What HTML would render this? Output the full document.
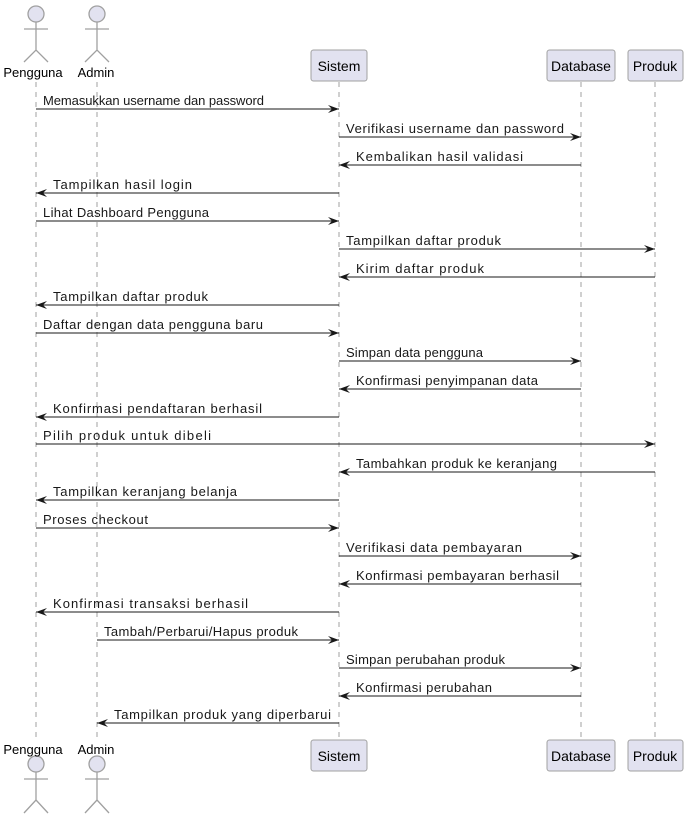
<!DOCTYPE html>
<html><head><meta charset="utf-8"><style>
html,body{margin:0;padding:0;background:#fff;}
svg{display:block;font-family:"Liberation Sans",sans-serif;}
</style></head><body>
<svg width="689" height="821" viewBox="0 0 689 821" xmlns="http://www.w3.org/2000/svg">
<g stroke="#a0a0a0" stroke-width="1" stroke-dasharray="5,5">
<line x1="36" y1="82" x2="36" y2="740"/>
<line x1="97" y1="82" x2="97" y2="740"/>
<line x1="339" y1="82" x2="339" y2="740"/>
<line x1="581" y1="82" x2="581" y2="740"/>
<line x1="655" y1="82" x2="655" y2="740"/>
</g>
<g fill="#e2e2f0" stroke="#a0a0a0" stroke-width="1.3">
<circle cx="36" cy="14" r="8"/><circle cx="97" cy="14" r="8"/>
<circle cx="36" cy="764" r="8"/><circle cx="97" cy="764" r="8"/>
</g>
<g stroke="#a0a0a0" stroke-width="1.3" fill="none">
<path d="M36 22V50M24 29H48M24 62L36 50L48 62"/>
<path d="M97 22V50M85 29H109M85 62L97 50L109 62"/>
<path d="M36 772V800M24 779H48M24 813L36 800L48 813"/>
<path d="M97 772V800M85 779H109M85 813L97 800L109 813"/>
</g>
<g font-size="13" fill="#000" text-anchor="middle">
<text x="33" y="77">Pengguna</text><text x="96" y="77">Admin</text>
<text x="33" y="754">Pengguna</text><text x="96" y="754">Admin</text>
</g>
<g fill="#e2e2f0" stroke="#a0a0a0" stroke-width="1">
<rect x="311" y="50" width="56" height="31" rx="2.5"/>
<rect x="547" y="50" width="68" height="31" rx="2.5"/>
<rect x="628" y="50" width="55" height="31" rx="2.5"/>
<rect x="311" y="740" width="56" height="31" rx="2.5"/>
<rect x="547" y="740" width="68" height="31" rx="2.5"/>
<rect x="628" y="740" width="55" height="31" rx="2.5"/>
</g>
<g font-size="14" fill="#000" text-anchor="middle">
<text x="339" y="71">Sistem</text><text x="581" y="71">Database</text><text x="655" y="71">Produk</text>
<text x="339" y="761">Sistem</text><text x="581" y="761">Database</text><text x="655" y="761">Produk</text>
</g>
<g id="msgs" stroke="#181818" fill="#181818" font-size="13"></g>
</svg>
<script>
var M=[
[36,339,109,"Memasukkan username dan password",221],
[339,581,137,"Verifikasi username dan password",218],
[581,339,165,"Kembalikan hasil validasi",167],
[339,36,193,"Tampilkan hasil login",139],
[36,339,221,"Lihat Dashboard Pengguna",166],
[339,655,249,"Tampilkan daftar produk",155],
[655,339,277,"Kirim daftar produk",128],
[339,36,305,"Tampilkan daftar produk",155],
[36,339,333,"Daftar dengan data pengguna baru",220],
[339,581,361,"Simpan data pengguna",137],
[581,339,389,"Konfirmasi penyimpanan data",182],
[339,36,417,"Konfirmasi pendaftaran berhasil",209],
[36,655,444,"Pilih produk untuk dibeli",168],
[655,339,472,"Tambahkan produk ke keranjang",201],
[339,36,500,"Tampilkan keranjang belanja",184],
[36,339,528,"Proses checkout",105],
[339,581,556,"Verifikasi data pembayaran",176],
[581,339,584,"Konfirmasi pembayaran berhasil",203],
[339,36,612,"Konfirmasi transaksi berhasil",195],
[97,339,640,"Tambah/Perbarui/Hapus produk",194],
[339,581,668,"Simpan perubahan produk",159],
[581,339,696,"Konfirmasi perubahan",136],
[339,97,723,"Tampilkan produk yang diperbarui",217]];
var g=document.getElementById('msgs'),s='';
M.forEach(function(m){var a=m[0],b=m[1],y=m[2],t=m[3],w=m[4];
s+='<line x1="'+a+'" y1="'+y+'" x2="'+b+'" y2="'+y+'" stroke-width="1"/>';
var tx;
if(b>a){s+='<polygon stroke="none" points="'+(b-11)+','+(y-4)+' '+b+','+y+' '+(b-11)+','+(y+4)+' '+(b-7)+','+y+'"/>';tx=a+7;}
else{s+='<polygon stroke="none" points="'+(b+11)+','+(y-4)+' '+b+','+y+' '+(b+11)+','+(y+4)+' '+(b+7)+','+y+'"/>';tx=b+17;}
s+='<text stroke="none" x="'+tx+'" y="'+(y-4)+'" textLength="'+w+'" lengthAdjust="spacing">'+t+'</text>';
});
g.innerHTML=s;
</script>
</body></html>
